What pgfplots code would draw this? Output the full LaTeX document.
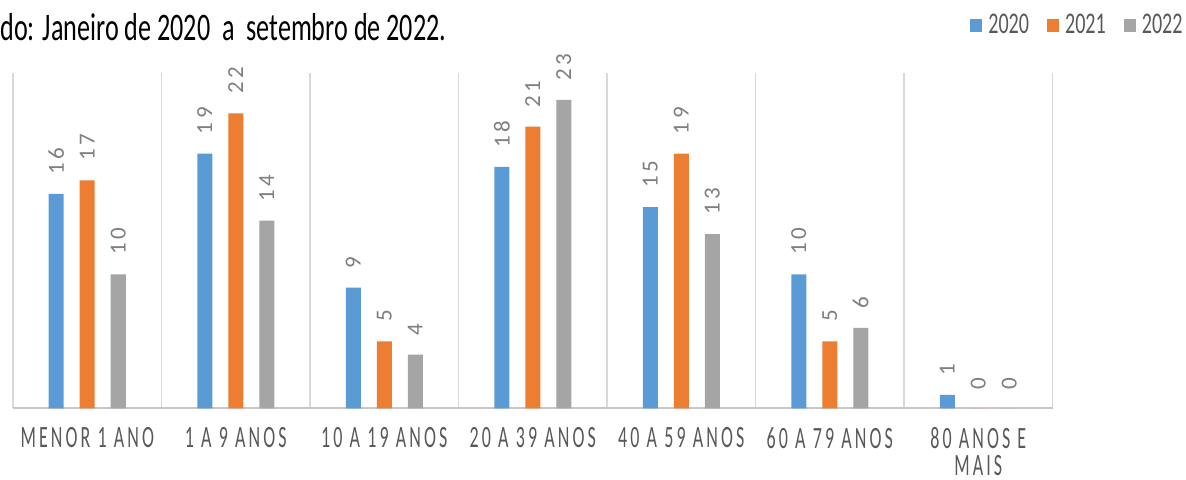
\documentclass[border=0pt]{standalone}
\usepackage{fontspec}
\setmainfont{Carlito}
\usepackage{pgfplots}
\pgfplotsset{compat=1.18}
\newfontfamily\titlefont[FakeStretch=0.67]{Carlito}
\newfontfamily\tickfont[FakeStretch=0.58,LetterSpace=10]{Carlito}
\newfontfamily\valfont[LetterSpace=15]{Carlito}
\newfontfamily\legfont[FakeStretch=0.67]{Carlito}
\definecolor{c20}{HTML}{5B9BD5}
\definecolor{c21}{HTML}{ED7D31}
\definecolor{c22}{HTML}{A5A5A5}
\definecolor{gridc}{HTML}{D9D9D9}
\definecolor{lblc}{HTML}{595959}
\definecolor{valc}{HTML}{7F7F7F}

\begin{document}
\begin{tikzpicture}
\useasboundingbox (0,0) rectangle (593pt,239.5pt);
\node[anchor=base west, inner sep=0pt, font=\titlefont\fontsize{19.5}{20}\selectfont]
  at (0pt,219.5pt) {do: Janeiro de 2020\ \ a\ \ setembro de 2022.};
\begin{axis}[
  at={(6.5pt,35.3pt)}, anchor=south west,
  scale only axis, width=519.75pt, height=167.7pt,
  xmin=-0.5, xmax=6.5, ymin=0, ymax=25,
  clip=false,
  ybar=8pt, bar width=7.5pt,
  axis line style={draw=none},
  major tick length=0pt, minor tick length=0pt,
  xtick={0,...,6},
  xticklabels={MENOR 1 ANO, 1 A 9 ANOS, 10 A 19 ANOS, 20 A 39 ANOS,
    40 A 59 ANOS, 60 A 79 ANOS, {80 ANOS E\\MAIS}},
  xticklabel style={font=\tickfont\fontsize{15.5}{13.5}\selectfont, align=center,
    inner sep=0pt, yshift=-9.5pt, text=lblc},
  ytick=\empty,
  minor xtick={-0.5,0.5,...,6.5},
  xminorgrids, minor grid style={gridc, line width=0.8pt},
  extra y ticks={0}, extra y tick labels={},
  extra y tick style={ymajorgrids, major grid style={gridc!80!gray, line width=1pt}},
  nodes near coords={\valfont\pgfmathprintnumber[assume math mode=true]{\pgfplotspointmeta}},
  every node near coord/.append style={font=\valfont\fontsize{11.5}{12}\selectfont,
    text=valc, rotate=90, anchor=west, inner ysep=0pt, inner xsep=9.5pt},
  legend columns=-1,
  legend style={at={(1.1255,1.1416)}, anchor=east, draw=none, fill=none,
    inner sep=0pt, font=\legfont\fontsize{15}{15}\selectfont, text=lblc,
    nodes={inner sep=0pt},
    /tikz/every odd column/.append style={column sep=3pt},
    /tikz/every even column/.append style={column sep=9pt}},
]
\addplot[fill=c20, draw=none,
  legend image code/.code={\fill[c20] (0pt,-3.3pt) rectangle (6pt,3.3pt);}]
  coordinates {(0,16) (1,19) (2,9) (3,18) (4,15) (5,10) (6,1)};
\addplot[fill=c21, draw=none,
  legend image code/.code={\fill[c21] (0pt,-3.3pt) rectangle (6pt,3.3pt);}]
  coordinates {(0,17) (1,22) (2,5) (3,21) (4,19) (5,5) (6,0)};
\addplot[fill=c22, draw=none,
  legend image code/.code={\fill[c22] (0pt,-3.3pt) rectangle (6pt,3.3pt);}]
  coordinates {(0,10) (1,14) (2,4) (3,23) (4,13) (5,6) (6,0)};
\legend{2020,2021,2022}
\end{axis}
\end{tikzpicture}
\end{document}
